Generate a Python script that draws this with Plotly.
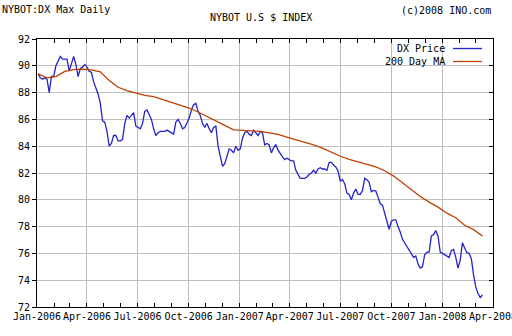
import pandas as pd
import plotly.graph_objects as go

# DX price, read every 4 calendar days starting 2006-01-03
price_start = "2006-01-03"
price_step = "4D"
dx_price = [
    89.4, 89.1, 89.0, 89.1, 89.0, 88.0, 89.2, 89.2, 90.0, 90.4,
    90.7, 90.5, 90.5, 90.5, 89.6, 90.2, 90.7, 90.1, 89.2, 89.8,
    89.9, 90.1, 89.9, 89.6, 89.5, 88.8, 88.4, 87.9, 87.2, 85.9,
    85.8, 85.1, 84.0, 84.2, 84.8, 84.8, 84.4, 84.4, 84.5, 85.7,
    86.3, 86.1, 86.3, 86.5, 85.5, 85.4, 85.3, 85.7, 86.6, 86.7,
    86.3, 86.0, 85.3, 84.8, 85.0, 85.1, 85.1, 85.1, 85.2, 85.1,
    84.96, 84.9, 85.8, 86.0, 85.7, 85.3, 85.4, 85.8, 86.1, 86.7,
    87.1, 87.2, 86.6, 86.3, 85.7, 85.4, 85.7, 85.3, 85.0, 85.4,
    85.5, 84.0, 83.3, 82.5, 82.7, 83.3, 83.8, 83.7, 83.5, 84.0,
    83.7, 83.8, 84.6, 85.0, 85.1, 84.9, 84.8, 85.2, 85.0, 84.8,
    85.1, 85.0, 84.1, 84.2, 84.1, 83.5, 83.9, 84.1, 83.7, 83.4,
    83.2, 83.0, 83.1, 83.0, 82.9, 82.9, 82.2, 81.9, 81.6, 81.6,
    81.6, 81.7, 81.9, 82.0, 82.2, 82.0, 82.3, 82.4, 82.3, 82.3,
    82.2, 82.8, 82.8, 82.6, 82.45, 82.15, 81.4, 81.5, 81.2, 80.5,
    80.4, 80.0, 80.5, 80.8, 80.4, 80.4, 80.7, 81.6, 81.5, 81.3,
    80.6, 80.7, 80.65, 80.2, 79.7, 79.6, 78.9, 78.4, 77.8, 78.4,
    78.5, 78.5, 78.0, 77.6, 77.05, 76.8, 76.5, 76.3, 76.0, 75.7,
    75.8, 75.2, 74.9, 75.0, 75.9, 76.1, 76.1, 77.3, 77.4, 77.7,
    77.3, 76.1, 76.0, 75.9, 75.8, 75.7, 76.2, 76.3, 75.7, 74.9,
    75.5, 76.8, 76.4, 76.05, 76.0, 75.6, 74.4, 73.5, 73.0, 72.7,
    72.9,
]

# 200 day moving average, read every 16 calendar days
ma_start = "2006-01-03"
ma_step = "16D"
ma_200 = [
    89.4, 89.1, 89.2, 89.58, 89.72, 89.75, 89.7, 89.55, 88.9, 88.4,
    88.15, 87.98, 87.8, 87.7, 87.5, 87.3, 87.05, 86.85, 86.55, 86.2,
    85.85, 85.55, 85.22, 85.18, 85.17, 85.1, 85.0, 84.88, 84.68, 84.5,
    84.3, 84.1, 83.86, 83.56, 83.25, 83.02, 82.83, 82.66, 82.45, 82.17,
    81.77, 81.28, 80.78, 80.25, 79.83, 79.45, 79.0, 78.66, 78.1, 77.77,
    77.3,
]

series_names = ["DX Price", "200 Day MA"]
series_colors = ["#2424c8", "#c04000"]

price_dates = pd.date_range(price_start, periods=len(dx_price), freq=price_step)
ma_dates = pd.date_range(ma_start, periods=len(ma_200), freq=ma_step)

FONT = "DejaVu Sans Mono"
W, H = 512, 336
L, R, T, B = 37, 19, 39, 29
PW, PH = W - L - R, H - T - B


def px_x(px):
    return (px - L) / PW


def px_y(py):
    return 1 - (py - T) / PH


fig = go.Figure()
fig.add_trace(go.Scatter(x=price_dates, y=dx_price, mode="lines", name=series_names[0],
                         line=dict(color=series_colors[0], width=1.3)))
fig.add_trace(go.Scatter(x=ma_dates, y=ma_200, mode="lines", name=series_names[1],
                         line=dict(color=series_colors[1], width=1.3)))
# invisible helper so the right-hand tick axis is drawn
fig.add_trace(go.Scatter(x=ma_dates[:1], y=ma_200[:1], yaxis="y2", mode="lines",
                         showlegend=False, hoverinfo="skip", line=dict(width=0)))

annotations = [
    dict(text="NYBOT:DX Max Daily", xref="paper", yref="paper",
         x=px_x(0), y=px_y(9), xanchor="left", yanchor="middle",
         showarrow=False, font=dict(family=FONT, size=10, color="black")),
    dict(text="(c)2008 INO.com", xref="paper", yref="paper",
         x=px_x(493), y=px_y(11), xanchor="right", yanchor="middle",
         showarrow=False, font=dict(family=FONT, size=10, color="black")),
]
shapes = []
# legend: label text followed by a line swatch (as in the original)
for i, (nm, col) in enumerate(zip(series_names, series_colors)):
    yy = 48.5 + 13 * i
    annotations.append(dict(text=nm, xref="paper", yref="paper", x=px_x(447), y=px_y(yy),
                            xanchor="right", yanchor="middle", showarrow=False,
                            font=dict(family=FONT, size=10, color="black")))
    shapes.append(dict(type="line", xref="paper", yref="paper",
                       x0=px_x(453), x1=px_x(482), y0=px_y(yy), y1=px_y(yy),
                       line=dict(color=col, width=1.3)))

fig.update_layout(
    width=W, height=H,
    margin=dict(l=L, r=R, t=T, b=B, autoexpand=False),
    paper_bgcolor="white", plot_bgcolor="white",
    font=dict(family=FONT, size=10, color="black"),
    title=dict(text="NYBOT U.S $ INDEX", x=0.51, xref="container", xanchor="center",
               y=1 - 17 / H, yref="container", yanchor="middle",
               font=dict(family=FONT, size=10, color="black")),
    showlegend=False,
    xaxis=dict(range=["2006-01-01", "2008-04-01"], type="date",
               tick0="2006-01-01", dtick="M3", tickformat="%b-%Y", tickangle=0,
               automargin=False, ticklabeloverflow="allow",
               showgrid=True, gridcolor="#bebebe", gridwidth=1,
               ticks="inside", ticklen=4, tickcolor="black",
               showline=True, linecolor="black", linewidth=1, mirror="allticks",
               minor=dict(dtick="M1", ticks="inside", ticklen=4, tickcolor="black", showgrid=False),
               tickfont=dict(family=FONT, size=10, color="black"), zeroline=False),
    yaxis=dict(range=[72, 92], dtick=2, tick0=72, automargin=False,
               showgrid=True, gridcolor="#bebebe", gridwidth=1,
               ticks="outside", ticklen=4, tickcolor="black",
               showline=True, linecolor="black", linewidth=1, mirror=True,
               tickfont=dict(family=FONT, size=10, color="black"), zeroline=False),
    yaxis2=dict(range=[72, 92], dtick=2, tick0=72, overlaying="y", side="right",
                automargin=False,
                showgrid=False, showticklabels=False, ticks="inside", ticklen=4,
                tickcolor="black", showline=False, zeroline=False),
    annotations=annotations,
    shapes=shapes,
)

fig.write_html("out.html")
